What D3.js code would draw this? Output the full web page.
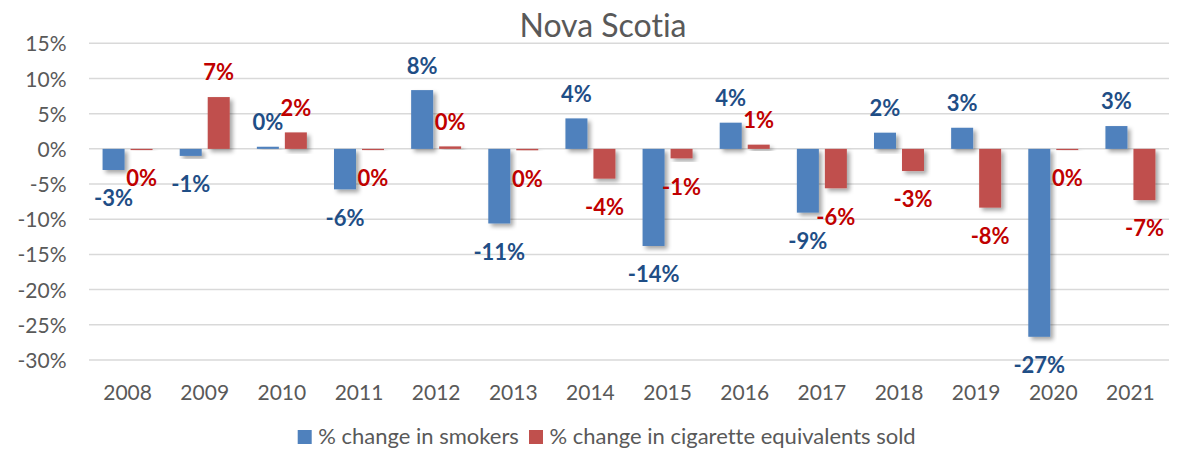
<!DOCTYPE html>
<html><head><meta charset="utf-8">
<script src="https://cdn.jsdelivr.net/npm/d3@7"></script>
<style>body{margin:0;background:#fff;} svg{display:block;} text{font-variant-ligatures:none;font-feature-settings:"liga" 0;}</style>
</head><body>
<svg id="c" width="1188" height="451"></svg>
<script>
const years = ["2008","2009","2010","2011","2012","2013","2014","2015","2016","2017","2018","2019","2020","2021"];
const smokers = [-3.0,-1.0,0.3,-5.75,8.35,-10.6,4.33,-13.8,3.72,-9.06,2.3,3.0,-26.7,3.24];
const cigarettes = [-0.15,7.36,2.34,-0.1,0.35,-0.2,-4.23,-1.35,0.6,-5.6,-3.15,-8.35,-0.15,-7.27];
const smokerLabels = ["-3%","-1%","0%","-6%","8%","-11%","4%","-14%","4%","-9%","2%","3%","-27%","3%"];
const cigLabels = ["0%","7%","2%","0%","0%","0%","-4%","-1%","1%","-6%","-3%","-8%","0%","-7%"];
const yTicks = [15,10,5,0,-5,-10,-15,-20,-25,-30];
const seriesNames = ["% change in smokers","% change in cigarette equivalents sold"];
const barColors = ["#4F81BD","#C0504D"];
const labelColors = ["#1F4E86","#C00000"];

const svg = d3.select("#c");
const font = "Lato, 'Open Sans', sans-serif";
const defs = svg.append("defs");
const f = defs.append("filter").attr("id","sh").attr("x","-30%").attr("y","-30%").attr("width","160%").attr("height","160%");
f.append("feDropShadow").attr("dx",3).attr("dy",3).attr("stdDeviation",2).attr("flood-color","#000").attr("flood-opacity",0.35);

const y = d3.scaleLinear().domain([-30,15]).range([360,43.3]);
const x0 = d3.scaleBand().domain(years).range([89,1169]).padding(0);
const bw = x0.bandwidth();
const x1 = d3.scaleBand().domain([0,1]).range([bw/2-25, bw/2+25]).paddingInner(0.214);

// gridlines
svg.append("g").selectAll("line").data(yTicks).join("line")
  .attr("x1",89).attr("x2",1169).attr("y1",d=>y(d)).attr("y2",d=>y(d))
  .attr("stroke","#D9D9D9").attr("stroke-width",1.5);

// y axis labels
const yAxis = d3.axisLeft(y).tickValues(yTicks).tickFormat(d=>d+"%").tickSize(0).tickPadding(0);
const ya = svg.append("g").attr("transform","translate(66.5,0)").call(yAxis);
ya.select(".domain").remove();
ya.selectAll("text").attr("font-family",font).attr("font-size",21).attr("fill","#595959").attr("dy","0.36em");

// x axis labels
const xAxis = d3.axisBottom(x0).tickSize(0).tickPadding(0);
const xa = svg.append("g").attr("transform","translate(0,400)").call(xAxis);
xa.select(".domain").remove();
xa.selectAll("text").attr("font-family",font).attr("font-size",21).attr("fill","#595959").attr("dy","0");

const series = [smokers, cigarettes];
const labels = [smokerLabels, cigLabels];
series.forEach((vals,si)=>{
  const g = svg.append("g");
  g.selectAll("rect").data(vals).join("rect")
    .attr("x",(d,i)=>x0(years[i])+x1(si))
    .attr("width",x1.bandwidth())
    .attr("y",d=>y(Math.max(0,d)))
    .attr("height",d=>Math.max(1.2,Math.abs(y(d)-y(0))))
    .attr("fill",barColors[si])
    .attr("filter","url(#sh)");
  g.selectAll("text").data(vals).join("text")
    .attr("x",(d,i)=>x0(years[i])+x1(si)+x1.bandwidth()/2)
    .attr("y",d=> d>=0 ? y(d)-24.5 : y(d)+28.5)
    .attr("dy","0.36em")
    .attr("text-anchor","middle")
    .attr("font-family",font).attr("font-weight","bold").attr("font-size",22)
    .attr("fill",labelColors[si])
    .text((d,i)=>labels[si][i]);
});

// title
svg.append("text").attr("x",603).attr("y",36.7).attr("text-anchor","middle")
  .attr("font-family",font).attr("font-size",32).attr("fill","#595959").text("Nova Scotia");

// legend
const leg = svg.append("g");
const legX = [297.7, 529];
seriesNames.forEach((n,i)=>{
  leg.append("rect").attr("x",legX[i]).attr("y",430).attr("width",14).attr("height",14).attr("fill",barColors[i]);
  leg.append("text").attr("x",legX[i]+20.5).attr("y",444).attr("font-family",font).attr("font-size",22).attr("fill","#595959").text(n);
});
</script>
</body></html>
